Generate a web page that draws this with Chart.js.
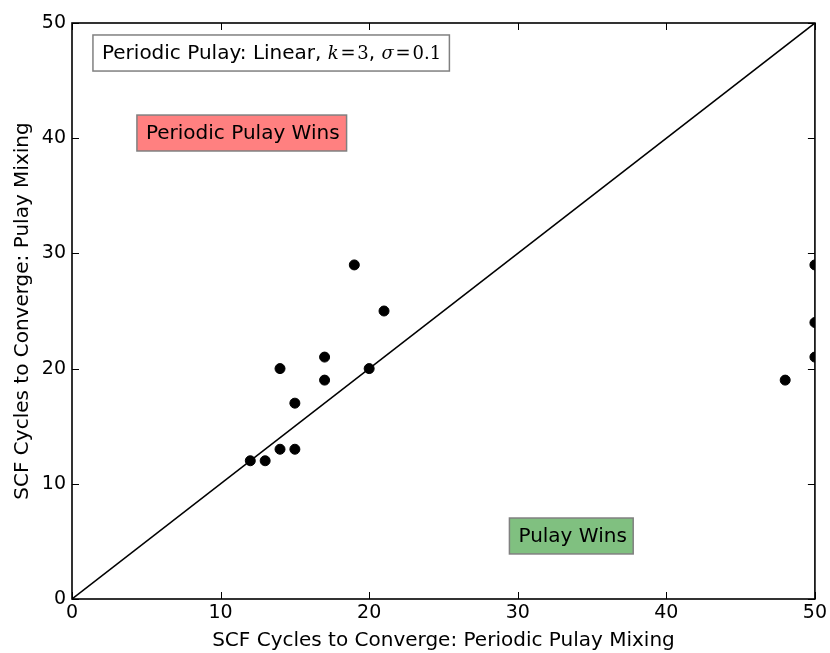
<!DOCTYPE html>
<html>
<head>
<meta charset="utf-8">
<script src="https://cdn.jsdelivr.net/npm/chart.js@4.4.1/dist/chart.umd.min.js"></script>
<style>
  html, body { margin: 0; padding: 0; background: #fff; }
  #wrap { width: 830px; height: 653px; }
</style>
</head>
<body>
<div id="wrap"><canvas id="chart"></canvas></div>
<script>
// cycles to converge, periodic pulay (x) vs pulay (y)
const periodicCycles = [12, 13, 14, 15, 14, 15, 17, 17, 19, 20, 21, 48, 50, 50, 50];
const pulayCycles    = [12, 12, 13, 13, 20, 17, 21, 19, 29, 20, 25, 19, 29, 24, 21];
const tickValues = [0, 10, 20, 30, 40, 50];
const axisMax = 50;

const points = periodicCycles.map((x, i) => ({ x: x, y: pulayCycles[i] }));

Chart.defaults.font.family = 'DejaVu Sans';
Chart.defaults.color = '#000';

// frame + inward ticks like matplotlib classic
const framePlugin = {
    id: 'frame',
    afterDatasetsDraw(chart) {
        const ctx = chart.ctx;
        const a = chart.chartArea;
        const xs = chart.scales.x, ys = chart.scales.y;
        ctx.save();
        ctx.strokeStyle = '#000';
        ctx.lineWidth = 1;
        tickValues.forEach(v => {
            const px = Math.round(xs.getPixelForValue(v)) + 0.5;
            const py = Math.round(ys.getPixelForValue(v)) + 0.5;
            ctx.beginPath();
            ctx.moveTo(px, a.bottom); ctx.lineTo(px, a.bottom - 7);
            ctx.moveTo(px, a.top); ctx.lineTo(px, a.top + 7);
            ctx.moveTo(a.left, py); ctx.lineTo(a.left + 7, py);
            ctx.moveTo(a.right, py); ctx.lineTo(a.right - 7, py);
            ctx.stroke();
        });
        ctx.lineWidth = 1.6;
        ctx.strokeRect(a.left, a.top, a.right - a.left, a.bottom - a.top);
        ctx.restore();
    }
};

// text boxes placed in data coordinates
const boxPlugin = {
    id: 'boxes',
    afterDraw(chart) {
        const ctx = chart.ctx;
        const xs = chart.scales.x, ys = chart.scales.y;
        const sans = '20px "DejaVu Sans"';
        const serif = '18px "DejaVu Serif"';
        const serifIt = 'italic 18px "DejaVu Serif"';
        function box(x0, x1, y0, y1, fill, parts) {
            const l = xs.getPixelForValue(x0), r = xs.getPixelForValue(x1);
            const t = ys.getPixelForValue(y1), b = ys.getPixelForValue(y0);
            ctx.save();
            ctx.fillStyle = fill;
            ctx.fillRect(l, t, r - l, b - t);
            ctx.strokeStyle = '#808080';
            ctx.lineWidth = 1.5;
            ctx.strokeRect(l, t, r - l, b - t);
            ctx.fillStyle = '#000';
            ctx.textBaseline = 'middle';
            let px = l + 9;
            parts.forEach(p => {
                ctx.font = p[1];
                ctx.fillText(p[0], px, (t + b) / 2 + 1);
                px += ctx.measureText(p[0]).width;
            });
            ctx.restore();
        }
        box(1.41, 25.4, 45.83, 48.96, '#fff', [
            ['Periodic Pulay: Linear, ', sans],
            ['k', serifIt], ['\u200A=\u200A3', serif], [', ', sans],
            ['σ', serifIt], ['\u200A=\u200A0.1', serif]
        ]);
        box(4.37, 18.48, 38.89, 42.01, '#ff8080', [['Periodic Pulay Wins', sans]]);
        box(29.44, 37.77, 3.91, 7.03, '#80c080', [['Pulay Wins', sans]]);
    }
};

new Chart(document.getElementById('chart'), {
    type: 'scatter',
    data: {
        datasets: [
            {
                label: 'runs',
                data: points,
                backgroundColor: '#000',
                borderColor: '#000',
                pointRadius: 5,
                pointHoverRadius: 5,
                clip: 0
            },
            {
                label: 'parity',
                type: 'line',
                data: [{ x: 0, y: 0 }, { x: axisMax, y: axisMax }],
                borderColor: '#000',
                borderWidth: 1.5,
                pointRadius: 0,
                fill: false
            }
        ]
    },
    plugins: [framePlugin, boxPlugin],
    options: {
        responsive: true,
        maintainAspectRatio: false,
        animation: false,
        layout: { padding: { top: 23, right: 14, left: 0, bottom: 0 } },
        plugins: { legend: { display: false }, tooltip: { enabled: false } },
        scales: {
            x: {
                type: 'linear',
                min: 0, max: axisMax,
                afterBuildTicks: s => { s.ticks = tickValues.map(v => ({ value: v })); },
                afterFit: s => { s.height = 54; },
                grid: { display: false, drawTicks: false },
                border: { display: false },
                ticks: { font: { size: 19 }, padding: 3, maxRotation: 0 },
                title: { display: true, text: 'SCF Cycles to Converge: Periodic Pulay Mixing', font: { size: 20 }, padding: { top: 3, bottom: 0 } }
            },
            y: {
                type: 'linear',
                min: 0, max: axisMax,
                afterBuildTicks: s => { s.ticks = tickValues.map(v => ({ value: v })); },
                afterFit: s => { s.width = 72; },
                grid: { display: false, drawTicks: false },
                border: { display: false },
                ticks: { font: { size: 19 }, padding: 6 },
                title: { display: true, text: 'SCF Cycles to Converge: Pulay Mixing', font: { size: 20 }, padding: { top: 11, bottom: 4 } }
            }
        }
    }
});
</script>
</body>
</html>
